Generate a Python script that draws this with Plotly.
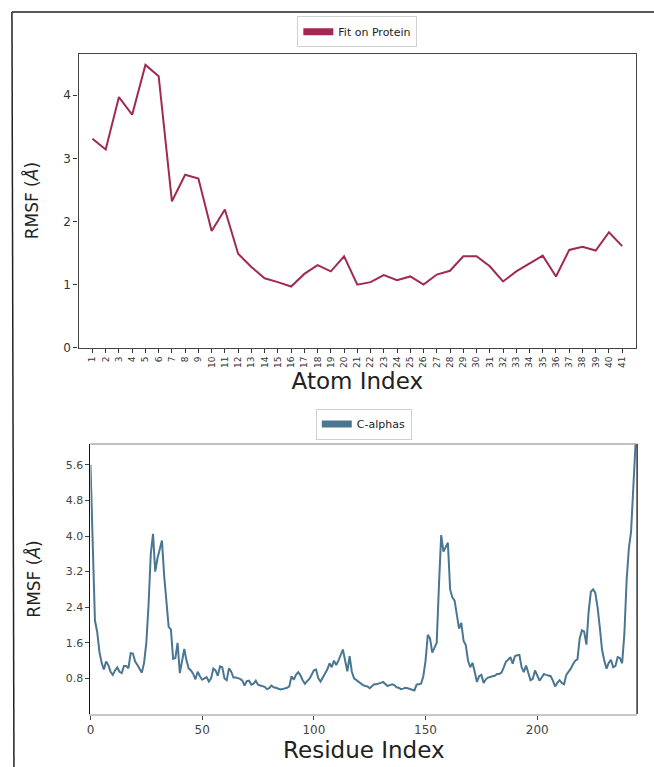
import plotly.graph_objects as go

W, H = 654, 767

# ---- Data: top panel (ligand atoms) ----
atom_index = list(range(1, 42))
atom_rmsf = [3.31, 3.14, 3.97, 3.69, 4.48, 4.30, 2.32, 2.74, 2.68, 1.85,
             2.19, 1.49, 1.28, 1.10, 1.04, 0.97, 1.17, 1.31, 1.21, 1.45,
             1.00, 1.04, 1.15, 1.07, 1.13, 1.00, 1.16, 1.22, 1.45, 1.45,
             1.29, 1.05, 1.21, 1.34, 1.46, 1.13, 1.55, 1.60, 1.54, 1.83,
             1.61]
atom_ticktext = [str(i) for i in atom_index]

# ---- Data: bottom panel (C-alphas) ----
residue_index = list(range(0, 245))
ca_rmsf = [
    5.60, 3.60, 2.10, 1.85, 1.40, 1.15, 1.00, 1.18, 1.10, 0.95,
    0.88, 0.98, 1.05, 0.95, 0.92, 1.08, 1.08, 1.03, 1.37, 1.36,
    1.18, 1.10, 1.00, 0.93, 1.15, 1.60, 2.45, 3.60, 4.05, 3.20,
    3.50, 3.70, 3.90, 3.10, 2.60, 1.96, 1.90, 1.24, 1.26, 1.60,
    0.92, 1.20, 1.46, 1.20, 1.02, 0.98, 0.90, 0.78, 0.95, 0.85,
    0.77, 0.80, 0.83, 0.73, 0.80, 1.02, 0.98, 0.86, 1.07, 1.05,
    0.80, 0.76, 1.03, 0.95, 0.82, 0.82, 0.80, 0.79, 0.75, 0.64,
    0.74, 0.75, 0.66, 0.68, 0.75, 0.66, 0.64, 0.62, 0.61, 0.56,
    0.58, 0.64, 0.60, 0.59, 0.57, 0.55, 0.56, 0.57, 0.59, 0.62,
    0.85, 0.77, 0.88, 0.94, 0.87, 0.76, 0.68, 0.74, 0.79, 0.88,
    0.98, 1.00, 0.80, 0.73, 0.82, 0.90, 1.00, 1.14, 1.05, 1.20,
    1.10, 1.20, 1.32, 1.45, 1.20, 0.96, 1.30, 0.95, 0.80, 0.76,
    0.72, 0.68, 0.65, 0.63, 0.62, 0.58, 0.62, 0.67, 0.67, 0.68,
    0.70, 0.72, 0.68, 0.63, 0.65, 0.67, 0.65, 0.60, 0.59, 0.56,
    0.57, 0.59, 0.58, 0.56, 0.54, 0.53, 0.66, 0.67, 0.68, 0.85,
    1.20, 1.78, 1.70, 1.38, 1.50, 1.60, 2.90, 4.02, 3.65, 3.75,
    3.85, 2.80, 2.62, 2.55, 2.20, 1.92, 2.05, 1.65, 1.55, 1.20,
    1.05, 1.15, 0.95, 0.72, 0.85, 0.88, 0.70, 0.78, 0.82, 0.84,
    0.85, 0.86, 0.90, 0.90, 0.93, 1.05, 1.18, 1.22, 1.28, 1.13,
    1.30, 1.32, 1.33, 1.05, 0.94, 1.09, 0.90, 0.76, 0.79, 0.98,
    0.87, 0.75, 0.82, 0.90, 0.88, 0.87, 0.85, 0.75, 0.62, 0.70,
    0.76, 0.70, 0.67, 0.88, 0.95, 1.02, 1.12, 1.20, 1.23, 1.70,
    1.88, 1.85, 1.56, 2.30, 2.75, 2.80, 2.72, 2.40, 1.95, 1.45,
    1.20, 1.02, 1.15, 1.22, 1.05, 1.08, 1.28, 1.26, 1.14, 1.80,
    3.00, 3.72, 4.10, 5.10, 6.07]
ca_yticks = [0.8, 1.6, 2.4, 3.2, 4.0, 4.8, 5.6]
ca_yticktext = ["0.8", "1.6", "2.4", "3.2", "4.0", "4.8", "5.6"]
ca_xticks = [0, 50, 100, 150, 200]

TOP_COLOR = "#a02a55"
BOT_COLOR = "#4a7692"


def px_x(p):
    return p / W


def px_y(p):
    return 1 - p / H


fig = go.Figure()

fig.add_trace(go.Scatter(x=atom_index, y=atom_rmsf, mode="lines",
                         line=dict(color=TOP_COLOR, width=2),
                         xaxis="x", yaxis="y", showlegend=False))
fig.add_trace(go.Scatter(x=[None], y=[None], mode="lines", name="Fit on Protein",
                         line=dict(color=TOP_COLOR, width=7),
                         xaxis="x", yaxis="y", legend="legend"))

fig.add_trace(go.Scatter(x=residue_index, y=ca_rmsf, mode="lines",
                         line=dict(color=BOT_COLOR, width=2),
                         xaxis="x2", yaxis="y2", showlegend=False))
fig.add_trace(go.Scatter(x=[None], y=[None], mode="lines", name="C-alphas",
                         line=dict(color=BOT_COLOR, width=7),
                         xaxis="x2", yaxis="y2", legend="legend2"))

font_family = "DejaVu Sans"

fig.update_layout(
    width=W, height=H,
    margin=dict(l=0, r=0, t=0, b=0),
    paper_bgcolor="white", plot_bgcolor="white",
    font=dict(family=font_family, color="#222"),
    xaxis=dict(domain=[px_x(75), px_x(636)], anchor="y",
               range=[-0.05, 42.05], tickmode="array",
               tickvals=atom_index, ticktext=atom_ticktext,
               tickangle=-90, tickfont=dict(size=9, color="#333"),
               ticks="outside", ticklen=4, tickcolor="#333",
               showline=True, linecolor="#444", linewidth=1.3, mirror=True,
               showgrid=False, zeroline=False,
               title=dict(text="Atom Index", font=dict(size=23, color="#222"),
                          standoff=2)),
    yaxis=dict(domain=[px_y(351), px_y(54)], anchor="x",
               range=[0, 4.66], tickvals=[0, 1, 2, 3, 4],
               tickfont=dict(size=12, color="#333"),
               ticks="outside", ticklen=4, tickcolor="#333",
               showline=True, linecolor="#444", linewidth=1.3, mirror=True,
               showgrid=False, zeroline=False,
               title=dict(text="RMSF (<i>Å</i>)", font=dict(size=17, color="#222"),
                          standoff=20)),
    xaxis2=dict(domain=[px_x(87), px_x(637)], anchor="y2",
                range=[0, 244.7], tickvals=ca_xticks,
                tickfont=dict(size=12, color="#444"),
                ticks="outside", ticklen=4, tickcolor="#444",
                showline=True, linecolor="#c8c8c8", linewidth=1.5,
                showgrid=False, zeroline=False,
                title=dict(text="Residue Index", font=dict(size=23, color="#222"),
                           standoff=2)),
    yaxis2=dict(domain=[px_y(720.6), px_y(448)], anchor="x2",
                range=[0, 6.07], tickvals=ca_yticks, ticktext=ca_yticktext,
                tickfont=dict(size=11, color="#444"),
                ticks="outside", ticklen=4, tickcolor="#444",
                showline=True, linecolor="#111", linewidth=1.2,
                showgrid=False, zeroline=False,
                title=dict(text="RMSF (<i>Å</i>)", font=dict(size=17, color="#222"),
                           standoff=20)),
    legend=dict(x=(px_x(75) + px_x(636)) / 2, y=px_y(32), xanchor="center",
                yanchor="middle", bgcolor="white", bordercolor="#d0d0d0",
                borderwidth=1, font=dict(size=11, color="#222"),
                itemwidth=30, tracegroupgap=0),
    legend2=dict(x=(px_x(87) + px_x(637)) / 2, y=px_y(428), xanchor="center",
                 yanchor="middle", bgcolor="white", bordercolor="#d0d0d0",
                 borderwidth=1, font=dict(size=11, color="#222"),
                 itemwidth=30, tracegroupgap=0),
    shapes=[
        # outer frame (top and left edges visible)
        dict(type="line", xref="paper", yref="paper",
             x0=px_x(8), x1=1.01, y0=px_y(12), y1=px_y(12),
             line=dict(color="#222", width=1.5)),
        dict(type="line", xref="paper", yref="paper",
             x0=px_x(8), x1=px_x(10), y0=px_y(12), y1=-0.01,
             line=dict(color="#222", width=1.5)),
        # bottom panel top/right borders
        dict(type="line", xref="paper", yref="paper",
             x0=px_x(87), x1=px_x(637), y0=px_y(448), y1=px_y(448),
             line=dict(color="#aaaaaa", width=1.5)),
        dict(type="line", xref="paper", yref="paper",
             x0=px_x(637), x1=px_x(637), y0=px_y(448), y1=px_y(720.6),
             line=dict(color="#333", width=1.5)),
    ],
)

fig.write_html("out.html")
